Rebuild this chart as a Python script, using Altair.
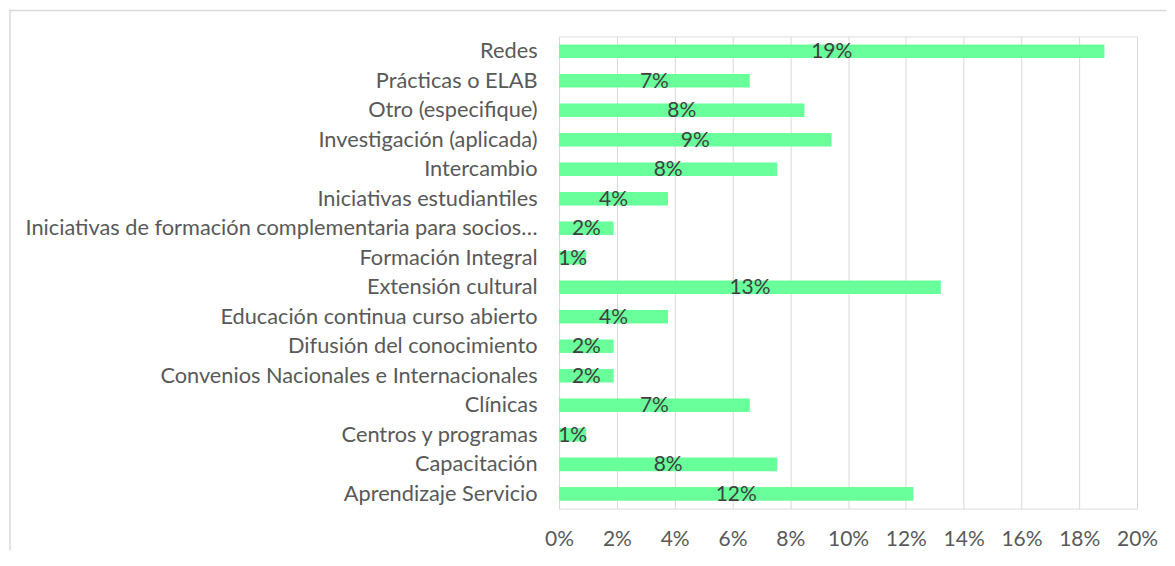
import altair as alt
import pandas as pd

categories = [
    "Redes",
    "Prácticas o ELAB",
    "Otro (especifique)",
    "Investigación (aplicada)",
    "Intercambio",
    "Iniciativas estudiantiles",
    "Iniciativas de formación complementaria para socios…",
    "Formación Integral",
    "Extensión cultural",
    "Educación continua curso abierto",
    "Difusión del conocimiento",
    "Convenios Nacionales e Internacionales",
    "Clínicas",
    "Centros y programas",
    "Capacitación",
    "Aprendizaje Servicio",
]
values = [0.1887, 0.0660, 0.0849, 0.0943, 0.0755, 0.0377, 0.0189, 0.0094,
          0.1321, 0.0377, 0.0189, 0.0189, 0.0660, 0.0094, 0.0755, 0.1226]
x_ticks = [0, 0.02, 0.04, 0.06, 0.08, 0.10, 0.12, 0.14, 0.16, 0.18, 0.20]

df = pd.DataFrame({"cat": categories, "val": values})

FONT = "Lato"
PLOT_W = 579
PLOT_H = 473
Y_EXT = 551

y_enc = alt.Y(
    "cat:N",
    sort=categories,
    title=None,
    scale=alt.Scale(paddingInner=0.54, paddingOuter=0.27),
    axis=alt.Axis(
        ticks=False,
        domain=False,
        labelPadding=22,
        labelFontSize=21.8,
        labelColor="#595959",
        labelFont=FONT,
        labelLimit=600,
        minExtent=Y_EXT,
        maxExtent=Y_EXT,
    ),
)

x_scale = alt.Scale(domain=[0, 0.2], nice=False)

base = alt.Chart(df)

bars = base.mark_bar(color="#69FF9A").encode(
    x=alt.X(
        "val:Q",
        scale=x_scale,
        title=None,
        axis=alt.Axis(
            values=x_ticks,
            format=".0%",
            ticks=False,
            domain=False,
            labelPadding=20,
            labelFontSize=21,
            labelColor="#595959",
            labelFont=FONT,
            labelOverlap=False,
            labelFlush=False,
            labelBound=False,
            grid=True,
            gridColor="#D9D9D9",
            gridWidth=1,
        ),
    ),
    y=y_enc,
)

labels = base.transform_calculate(mid="datum.val / 2").mark_text(
    fontSize=21, color="#404040", font=FONT, baseline="middle", align="center", dy=1
).encode(
    x=alt.X("mid:Q", scale=x_scale),
    y=alt.Y("cat:N", sort=categories),
    text=alt.Text("val:Q", format=".0%"),
)

frame_df = pd.DataFrame({"k": [0]})
frame_top = alt.Chart(frame_df).mark_rule(color="#D9D9D9", strokeWidth=1.5).encode(
    x=alt.value(-551), x2=alt.value(608), y=alt.value(-26)
)
frame_left = alt.Chart(frame_df).mark_rule(color="#D9D9D9", strokeWidth=1.5).encode(
    x=alt.value(-550), y=alt.value(-27), y2=alt.value(515)
)

chart = alt.layer(frame_top, frame_left, bars, labels).properties(
    width=PLOT_W,
    height=PLOT_H,
    padding={"left": 0, "top": 0, "right": 0, "bottom": 0},
).configure_view(stroke=None).configure(background="white")

chart.save("out.html", embed_options={"renderer": "svg", "actions": False})
